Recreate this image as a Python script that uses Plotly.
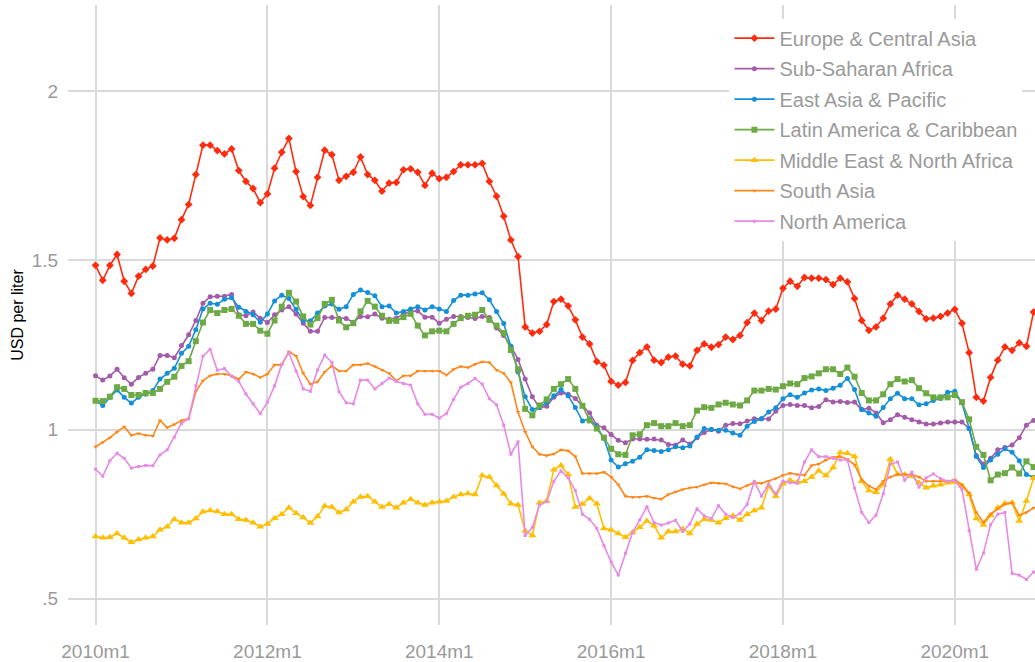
import plotly.graph_objects as go

# monthly series, 2010m1 .. 2020m12 (132 months)
months = [f"{y}m{m}" for y in range(2010, 2021) for m in range(1, 13)]

regions = ["Europe & Central Asia", "Sub-Saharan Africa", "East Asia & Pacific",
           "Latin America & Caribbean", "Middle East & North Africa", "South Asia",
           "North America"]

europe_central_asia = [
    1.485, 1.441, 1.485, 1.517, 1.438, 1.402, 1.453, 1.473, 1.483, 1.566, 1.560, 1.565,
    1.620, 1.665, 1.753, 1.840, 1.840, 1.824, 1.814, 1.829, 1.765, 1.733, 1.712, 1.670,
    1.696, 1.772, 1.819, 1.860, 1.762, 1.688, 1.662, 1.745, 1.825, 1.812, 1.736, 1.748,
    1.760, 1.805, 1.753, 1.736, 1.704, 1.728, 1.730, 1.767, 1.770, 1.760, 1.721, 1.757,
    1.741, 1.745, 1.762, 1.782, 1.782, 1.782, 1.786, 1.733, 1.689, 1.630, 1.560, 1.511,
    1.303, 1.285, 1.290, 1.310, 1.378, 1.385, 1.365, 1.324, 1.273, 1.253, 1.201, 1.190,
    1.142, 1.131, 1.139, 1.204, 1.227, 1.244, 1.205, 1.198, 1.214, 1.217, 1.193, 1.188,
    1.234, 1.253, 1.243, 1.251, 1.273, 1.266, 1.278, 1.316, 1.344, 1.322, 1.350, 1.356,
    1.417, 1.438, 1.423, 1.449, 1.447, 1.447, 1.443, 1.428, 1.447, 1.436, 1.387, 1.322,
    1.293, 1.303, 1.329, 1.371, 1.397, 1.385, 1.371, 1.349, 1.327, 1.329, 1.334, 1.344,
    1.355, 1.314, 1.227, 1.095, 1.084, 1.154, 1.205, 1.244, 1.234, 1.256, 1.246, 1.347,
]
sub_saharan_africa = [
    1.159, 1.146, 1.158, 1.178, 1.153, 1.134, 1.154, 1.166, 1.178, 1.219, 1.219, 1.212,
    1.248, 1.280, 1.322, 1.373, 1.392, 1.394, 1.394, 1.399, 1.339, 1.336, 1.347, 1.329,
    1.316, 1.339, 1.353, 1.363, 1.341, 1.314, 1.290, 1.290, 1.331, 1.331, 1.329, 1.328,
    1.317, 1.334, 1.333, 1.341, 1.329, 1.326, 1.329, 1.341, 1.349, 1.350, 1.332, 1.332,
    1.314, 1.326, 1.334, 1.334, 1.331, 1.328, 1.334, 1.331, 1.300, 1.278, 1.246, 1.207,
    1.149, 1.097, 1.064, 1.069, 1.095, 1.108, 1.104, 1.092, 1.070, 1.049, 1.013, 1.005,
    0.985, 0.968, 0.961, 0.972, 0.972, 0.971, 0.972, 0.969, 0.956, 0.954, 0.969, 0.957,
    0.976, 0.991, 1.000, 0.995, 1.013, 1.018, 1.017, 1.025, 1.032, 1.032, 1.031, 1.054,
    1.071, 1.074, 1.071, 1.071, 1.064, 1.068, 1.088, 1.081, 1.083, 1.080, 1.081, 1.059,
    1.063, 1.049, 1.020, 1.029, 1.044, 1.036, 1.029, 1.022, 1.016, 1.016, 1.019, 1.022,
    1.022, 1.022, 1.003, 0.923, 0.898, 0.915, 0.940, 0.947, 0.954, 0.976, 1.013, 1.027,
]
east_asia_pacific = [
    1.085, 1.071, 1.095, 1.117, 1.095, 1.078, 1.095, 1.104, 1.115, 1.149, 1.166, 1.181,
    1.225, 1.246, 1.295, 1.356, 1.373, 1.370, 1.385, 1.389, 1.361, 1.349, 1.339, 1.317,
    1.341, 1.380, 1.397, 1.387, 1.355, 1.322, 1.321, 1.344, 1.365, 1.371, 1.355, 1.363,
    1.399, 1.412, 1.405, 1.395, 1.363, 1.365, 1.344, 1.349, 1.356, 1.363, 1.353, 1.363,
    1.356, 1.349, 1.381, 1.397, 1.397, 1.400, 1.404, 1.383, 1.349, 1.313, 1.246, 1.170,
    1.097, 1.059, 1.066, 1.079, 1.100, 1.118, 1.100, 1.065, 1.025, 1.032, 1.008, 0.974,
    0.910, 0.889, 0.899, 0.906, 0.918, 0.940, 0.938, 0.935, 0.940, 0.949, 0.946, 0.951,
    0.978, 1.003, 1.000, 0.998, 0.998, 0.990, 0.983, 1.010, 1.024, 1.032, 1.052, 1.064,
    1.091, 1.103, 1.095, 1.108, 1.117, 1.120, 1.115, 1.122, 1.131, 1.151, 1.118, 1.059,
    1.049, 1.039, 1.065, 1.091, 1.107, 1.091, 1.091, 1.073, 1.076, 1.086, 1.092, 1.110,
    1.113, 1.079, 1.003, 0.920, 0.888, 0.910, 0.927, 0.943, 0.933, 0.908, 0.867, 0.859,
]
latin_america_caribbean = [
    1.085, 1.084, 1.097, 1.125, 1.120, 1.102, 1.102, 1.108, 1.108, 1.120, 1.141, 1.156,
    1.188, 1.202, 1.261, 1.316, 1.353, 1.344, 1.353, 1.356, 1.336, 1.312, 1.312, 1.292,
    1.283, 1.322, 1.363, 1.404, 1.378, 1.334, 1.310, 1.329, 1.371, 1.383, 1.322, 1.302,
    1.314, 1.349, 1.380, 1.363, 1.336, 1.321, 1.321, 1.332, 1.342, 1.307, 1.278, 1.290,
    1.292, 1.290, 1.312, 1.329, 1.336, 1.339, 1.353, 1.324, 1.307, 1.285, 1.235, 1.178,
    1.061, 1.042, 1.071, 1.089, 1.120, 1.134, 1.149, 1.120, 1.070, 1.027, 1.003, 0.976,
    0.943, 0.927, 0.925, 0.983, 0.986, 1.013, 1.019, 1.010, 1.010, 1.019, 1.010, 1.013,
    1.056, 1.066, 1.064, 1.074, 1.079, 1.074, 1.071, 1.086, 1.115, 1.115, 1.120, 1.118,
    1.128, 1.136, 1.134, 1.152, 1.157, 1.166, 1.178, 1.178, 1.164, 1.183, 1.156, 1.108,
    1.086, 1.086, 1.104, 1.134, 1.149, 1.142, 1.146, 1.122, 1.107, 1.095, 1.095, 1.095,
    1.102, 1.081, 1.030, 0.949, 0.925, 0.850, 0.867, 0.871, 0.888, 0.870, 0.906, 0.889,
]
middle_east_north_africa = [
    0.684, 0.680, 0.682, 0.693, 0.680, 0.667, 0.675, 0.680, 0.684, 0.704, 0.713, 0.735,
    0.725, 0.725, 0.737, 0.757, 0.761, 0.758, 0.750, 0.750, 0.735, 0.733, 0.725, 0.713,
    0.721, 0.738, 0.750, 0.769, 0.753, 0.740, 0.724, 0.743, 0.774, 0.771, 0.755, 0.764,
    0.787, 0.801, 0.803, 0.787, 0.771, 0.779, 0.769, 0.784, 0.794, 0.784, 0.777, 0.784,
    0.787, 0.789, 0.801, 0.808, 0.811, 0.808, 0.864, 0.860, 0.835, 0.810, 0.781, 0.777,
    0.701, 0.687, 0.784, 0.789, 0.881, 0.894, 0.867, 0.771, 0.780, 0.797, 0.781, 0.708,
    0.703, 0.693, 0.682, 0.696, 0.711, 0.730, 0.716, 0.680, 0.699, 0.699, 0.706, 0.693,
    0.721, 0.735, 0.733, 0.725, 0.738, 0.745, 0.733, 0.750, 0.761, 0.769, 0.833, 0.803,
    0.840, 0.850, 0.844, 0.847, 0.860, 0.878, 0.864, 0.888, 0.932, 0.930, 0.920, 0.847,
    0.820, 0.815, 0.837, 0.912, 0.868, 0.867, 0.862, 0.843, 0.828, 0.834, 0.837, 0.843,
    0.845, 0.833, 0.808, 0.737, 0.718, 0.747, 0.769, 0.782, 0.784, 0.730, 0.789, 0.857,
]
south_asia = [
    0.949, 0.962, 0.976, 0.993, 1.008, 0.983, 0.988, 0.983, 0.981, 1.027, 1.006, 1.015,
    1.027, 1.032, 1.112, 1.144, 1.159, 1.164, 1.164, 1.159, 1.149, 1.170, 1.164, 1.154,
    1.164, 1.191, 1.191, 1.230, 1.217, 1.166, 1.134, 1.141, 1.170, 1.188, 1.173, 1.173,
    1.191, 1.191, 1.195, 1.186, 1.176, 1.166, 1.144, 1.159, 1.159, 1.173, 1.173, 1.173,
    1.173, 1.161, 1.178, 1.186, 1.183, 1.193, 1.200, 1.198, 1.176, 1.166, 1.139, 1.052,
    0.993, 0.949, 0.927, 0.923, 0.928, 0.940, 0.937, 0.920, 0.870, 0.870, 0.870, 0.874,
    0.860, 0.837, 0.803, 0.800, 0.801, 0.803, 0.798, 0.794, 0.808, 0.816, 0.823, 0.828,
    0.830, 0.837, 0.843, 0.841, 0.840, 0.831, 0.825, 0.835, 0.843, 0.841, 0.847, 0.855,
    0.865, 0.871, 0.867, 0.865, 0.894, 0.898, 0.910, 0.918, 0.920, 0.912, 0.896, 0.852,
    0.833, 0.823, 0.847, 0.860, 0.867, 0.867, 0.867, 0.860, 0.847, 0.847, 0.847, 0.847,
    0.852, 0.837, 0.813, 0.755, 0.726, 0.750, 0.766, 0.779, 0.784, 0.747, 0.755, 0.769,
]
north_america = [
    0.883, 0.862, 0.908, 0.930, 0.915, 0.886, 0.891, 0.894, 0.893, 0.925, 0.940, 0.977,
    1.018, 1.032, 1.129, 1.217, 1.237, 1.175, 1.180, 1.157, 1.142, 1.105, 1.076, 1.047,
    1.081, 1.129, 1.193, 1.227, 1.173, 1.120, 1.113, 1.176, 1.220, 1.198, 1.112, 1.079,
    1.076, 1.146, 1.146, 1.120, 1.136, 1.152, 1.142, 1.136, 1.131, 1.076, 1.045, 1.045,
    1.034, 1.047, 1.089, 1.125, 1.136, 1.151, 1.134, 1.091, 1.073, 1.013, 0.927, 0.964,
    0.687, 0.711, 0.777, 0.787, 0.847, 0.878, 0.857, 0.820, 0.750, 0.735, 0.708, 0.657,
    0.609, 0.570, 0.635, 0.696, 0.733, 0.772, 0.725, 0.718, 0.724, 0.732, 0.699, 0.721,
    0.766, 0.745, 0.737, 0.775, 0.750, 0.740, 0.752, 0.779, 0.847, 0.803, 0.838, 0.810,
    0.847, 0.843, 0.841, 0.904, 0.940, 0.920, 0.920, 0.915, 0.910, 0.910, 0.827, 0.755,
    0.725, 0.747, 0.810, 0.898, 0.904, 0.850, 0.874, 0.830, 0.857, 0.869, 0.855, 0.847,
    0.849, 0.823, 0.701, 0.587, 0.635, 0.719, 0.750, 0.755, 0.575, 0.570, 0.557, 0.579,
]

x_ticks = ["2010m1", "2012m1", "2014m1", "2016m1", "2018m1", "2020m1"]
y_ticks = [0.5, 1, 1.5, 2]
y_labels = [".5", "1", "1.5", "2"]

series = [europe_central_asia, sub_saharan_africa, east_asia_pacific,
          latin_america_caribbean, middle_east_north_africa, south_asia, north_america]
colors = ["#FF2B0E", "#A35BAA", "#1590D8", "#6DAA45", "#FFBE00", "#FF8618", "#E68AE6"]
symbols = ["diamond", "circle", "circle", "square", "triangle-up", "triangle-down", "square"]
sizes = [6, 5, 5, 6, 7, 4, 3]

fig = go.Figure()
for name, vals, col, sym, sz in zip(regions, series, colors, symbols, sizes):
    fig.add_trace(go.Scatter(
        x=months, y=vals, name=name, mode="lines+markers", legendgroup=name,
        line=dict(color=col, width=1.6),
        marker=dict(color=col, symbol=sym, size=sz),
        hovertemplate=name + "<br>%{x}: %{y:.3f}<extra></extra>"))

fig.update_layout(
    width=1035, height=662,
    margin=dict(l=68, r=0, t=5, b=30),
    plot_bgcolor="white", paper_bgcolor="white",
    font=dict(family="Liberation Sans, Arial, sans-serif", color="#9a9a9a"),
    legend=dict(x=0.684, xanchor="left", y=0.978, yanchor="top", bgcolor="white",
                font=dict(size=20, color="#9a9a9a"), tracegroupgap=1.5,
                itemwidth=40),
    showlegend=True,
)
fig.update_xaxes(type="category", range=[-3.85, 131.2], tickmode="array",
                 tickvals=x_ticks, ticktext=x_ticks, showgrid=True,
                 gridcolor="#DADADA", gridwidth=1.5, zeroline=False, showline=False,
                 ticks="outside", ticklen=9, tickcolor="rgba(0,0,0,0)",
                 tickfont=dict(size=19, color="#9a9a9a"))
fig.update_yaxes(range=[0.4226, 2.254], tickmode="array", tickvals=y_ticks,
                 ticktext=y_labels, showgrid=True, gridcolor="#DADADA", gridwidth=1.5,
                 zeroline=False, showline=False, ticks="outside", ticklen=5,
                 tickcolor="rgba(0,0,0,0)", tickfont=dict(size=19, color="#9a9a9a"),
                 title=dict(text="USD per liter", font=dict(size=16, color="black"),
                            standoff=4))

# drop the browser's default page margin so the figure sits at the top-left corner
fig.write_html("out.html", config={"displayModeBar": False},
               post_script="document.body.style.margin = '0px';")
